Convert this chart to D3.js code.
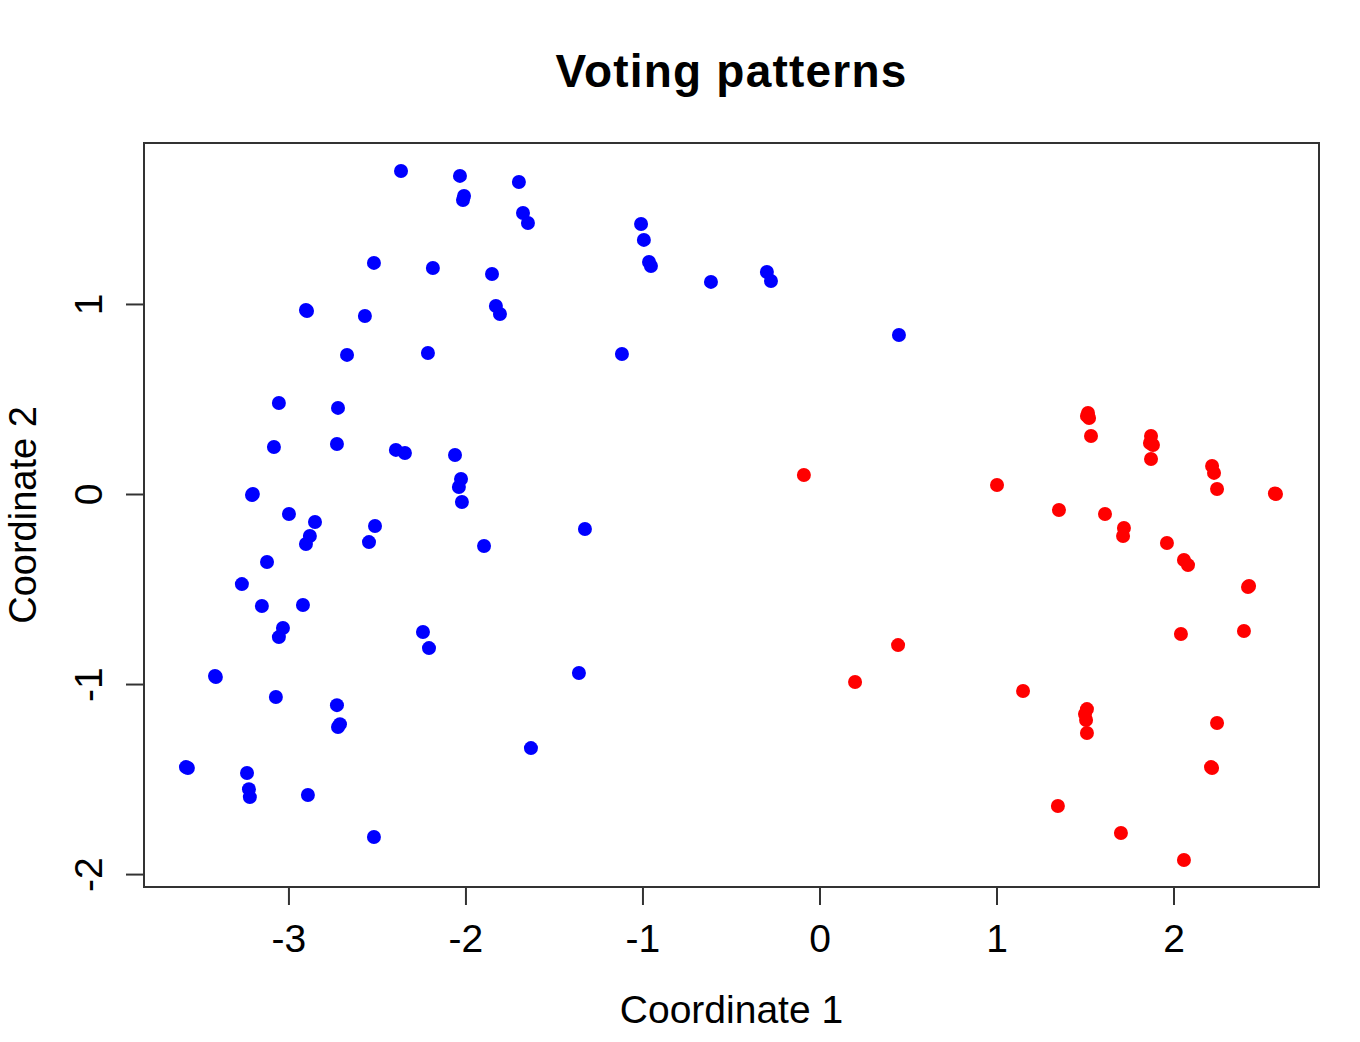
<!DOCTYPE html>
<html>
<head>
<meta charset="utf-8">
<script src="https://d3js.org/d3.v7.min.js"></script>
<style>
  html, body { margin: 0; padding: 0; background: #fff; }
  text { font-family: "Liberation Sans", Arial, Helvetica, sans-serif; fill: #000; }
</style>
</head>
<body>
<svg id="chart" width="1360" height="1042"></svg>
<script>
// ---- Data ----
const chartTitle = "Voting patterns";
const xLabel = "Coordinate 1";
const yLabel = "Coordinate 2";
const xTicks = [-3, -2, -1, 0, 1, 2];
const yTicks = [-2, -1, 0, 1];

const groupA = [ // blue
  [-2.364, 1.700], [-2.031, 1.674], [-2.008, 1.568], [-2.014, 1.547], [-1.698, 1.642],
  [-1.675, 1.479], [-1.647, 1.426], [-1.008, 1.421], [-0.992, 1.337], [-0.963, 1.221],
  [-0.952, 1.200], [-0.613, 1.116], [-0.297, 1.168], [-0.274, 1.121], [-2.517, 1.216],
  [-2.184, 1.189], [-1.850, 1.158], [-2.901, 0.968], [-2.895, 0.963], [-2.568, 0.937],
  [-1.828, 0.989], [-1.805, 0.947], [-2.669, 0.732], [-2.212, 0.742], [-1.116, 0.737],
  [0.449, 0.837], [-3.054, 0.479], [-2.720, 0.453], [-3.082, 0.247], [-2.726, 0.263],
  [-2.393, 0.232], [-2.342, 0.216], [-2.059, 0.205], [-2.025, 0.079], [-2.037, 0.037],
  [-2.020, -0.042], [-3.206, -0.005], [-3.201, 0.000], [-2.997, -0.105], [-2.850, -0.147],
  [-2.511, -0.168], [-2.879, -0.221], [-2.901, -0.263], [-2.545, -0.253], [-1.895, -0.274],
  [-1.325, -0.184], [-3.121, -0.358], [-3.263, -0.474], [-3.150, -0.589], [-2.918, -0.584],
  [-3.031, -0.705], [-3.054, -0.753], [-2.240, -0.726], [-2.206, -0.811], [-1.359, -0.942],
  [-3.415, -0.958], [-3.410, -0.963], [-3.071, -1.068], [-2.726, -1.111], [-2.709, -1.211],
  [-2.720, -1.226], [-3.568, -1.442], [-3.579, -1.437], [-3.234, -1.468], [-3.223, -1.553],
  [-3.218, -1.595], [-2.890, -1.584], [-1.630, -1.337], [-2.517, -1.805]
];

const groupB = [ // red
  [-0.088, 0.100], [1.003, 0.047], [1.517, 0.426], [1.511, 0.411], [1.523, 0.400],
  [1.534, 0.305], [1.873, 0.305], [1.867, 0.268], [1.884, 0.258], [1.873, 0.184],
  [2.218, 0.147], [2.229, 0.111], [2.246, 0.026], [2.579, 0.000], [2.573, 0.003],
  [1.353, -0.084], [1.613, -0.105], [1.720, -0.179], [1.715, -0.221], [1.963, -0.258],
  [2.059, -0.347], [2.082, -0.374], [2.427, -0.484], [2.421, -0.489], [2.042, -0.737],
  [2.398, -0.721], [0.444, -0.795], [0.201, -0.989], [1.150, -1.037], [1.511, -1.132],
  [1.500, -1.158], [1.506, -1.189], [1.511, -1.258], [2.246, -1.205], [2.218, -1.442],
  [2.212, -1.437], [1.347, -1.642], [1.703, -1.784], [2.059, -1.926]
];

// ---- Layout ----
const plot = { left: 144, right: 1319, top: 143, bottom: 887 };
const svg = d3.select("#chart");

const x = d3.scaleLinear().domain([-3.816, 2.822]).range([plot.left, plot.right]);
const y = d3.scaleLinear().domain([-2.068, 1.847]).range([plot.bottom, plot.top]);

// points
const pts = svg.append("g");
pts.selectAll("circle.a").data(groupA).join("circle")
  .attr("class", "a")
  .attr("cx", d => x(d[0])).attr("cy", d => y(d[1]))
  .attr("r", 7).attr("fill", "#0000FF");
pts.selectAll("circle.b").data(groupB).join("circle")
  .attr("class", "b")
  .attr("cx", d => x(d[0])).attr("cy", d => y(d[1]))
  .attr("r", 7).attr("fill", "#FF0000");

// box
svg.append("rect")
  .attr("x", plot.left).attr("y", plot.top)
  .attr("width", plot.right - plot.left).attr("height", plot.bottom - plot.top)
  .attr("fill", "none").attr("stroke", "#333").attr("stroke-width", 2);

const fmt = d => d < 0 ? "-" + Math.abs(d) : String(d);

// x axis
const xAxis = d3.axisBottom(x).tickValues(xTicks).tickSize(18).tickPadding(0).tickFormat(fmt);
const gx = svg.append("g").attr("transform", `translate(0,${plot.bottom})`).call(xAxis);
gx.select(".domain").attr("stroke", "#333").attr("stroke-width", 2)
  .attr("d", `M${x(xTicks[0])},0H${x(xTicks[xTicks.length-1])}`);
gx.selectAll(".tick line").attr("stroke", "#333").attr("stroke-width", 2);
gx.selectAll(".tick text")
  .attr("y", 65).attr("dy", null)
  .style("font-size", "39px")
  .style("font-family", "'Liberation Sans', Arial, sans-serif")
  .attr("fill", "#000");

// y axis
const yAxis = d3.axisLeft(y).tickValues(yTicks).tickSize(18).tickPadding(0).tickFormat(fmt);
const gy = svg.append("g").attr("transform", `translate(${plot.left},0)`).call(yAxis);
gy.select(".domain").attr("stroke", "#333").attr("stroke-width", 2)
  .attr("d", `M0,${y(yTicks[0])}V${y(yTicks[yTicks.length-1])}`);
gy.selectAll(".tick line").attr("stroke", "#333").attr("stroke-width", 2);
gy.selectAll(".tick text")
  .attr("x", null).attr("dy", null)
  .attr("transform", "translate(-42,0) rotate(-90)")
  .attr("text-anchor", "middle")
  .style("font-size", "39px")
  .style("font-family", "'Liberation Sans', Arial, sans-serif")
  .attr("fill", "#000");

// title
svg.append("text")
  .attr("x", (plot.left + plot.right) / 2).attr("y", 87)
  .attr("text-anchor", "middle")
  .style("font-size", "46px").style("font-weight", "bold")
  .style("letter-spacing", "1.2px")
  .text(chartTitle);

// axis labels
svg.append("text")
  .attr("x", (plot.left + plot.right) / 2).attr("y", 1023)
  .attr("text-anchor", "middle")
  .style("font-size", "39px")
  .text(xLabel);

svg.append("text")
  .attr("transform", `translate(36,${(plot.top + plot.bottom) / 2}) rotate(-90)`)
  .attr("text-anchor", "middle")
  .style("font-size", "38px")
  .text(yLabel);
</script>
</body>
</html>
